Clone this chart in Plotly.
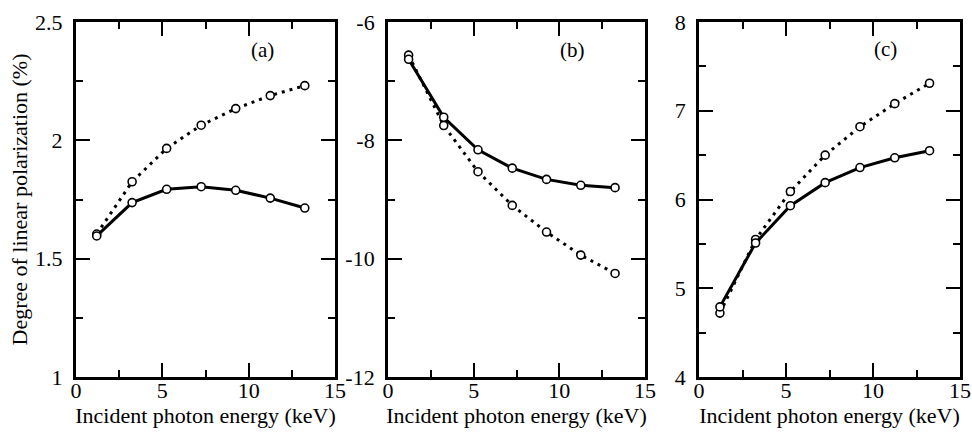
import plotly.graph_objects as go

energy = [1.2, 3.25, 5.25, 7.25, 9.25, 11.25, 13.25]

# panel (a)
a_solid = [1.596, 1.737, 1.793, 1.804, 1.789, 1.756, 1.714]
a_dotted = [1.604, 1.825, 1.966, 2.064, 2.134, 2.189, 2.231]
# panel (b)
b_solid = [-6.63, -7.61, -8.16, -8.47, -8.66, -8.76, -8.80]
b_dotted = [-6.56, -7.75, -8.53, -9.10, -9.55, -9.94, -10.25]
# panel (c)
c_solid = [4.79, 5.51, 5.93, 6.19, 6.36, 6.47, 6.55]
c_dotted = [4.72, 5.55, 6.09, 6.50, 6.82, 7.08, 7.31]

panel_labels = ["(a)", "(b)", "(c)"]
b_tickvals = [-12, -10, -8, -6]
b_ticktext = ["-12", "-10", "-8", "-6"]

FONT = "Liberation Serif"

fig = go.Figure()

panels = [
    (a_solid, a_dotted, "", [1, 2.5], 0.5, 0.25, (10.8, 2.38)),
    (b_solid, b_dotted, "2", [-12, -6], 2, 1, (10.75, -6.48)),
    (c_solid, c_dotted, "3", [4, 8], 1, 0.5, (10.7, 7.7)),
]
domains = [[0, 0.293], [0.353, 0.6437], [0.7048, 1.0]]

for i, (solid, dotted, ax, yr, dt, mdt, lab) in enumerate(panels):
    xa = "x" + ax
    ya = "y" + ax
    fig.add_trace(go.Scatter(
        x=energy, y=dotted, mode="lines+markers", xaxis=xa, yaxis=ya,
        line=dict(color="black", width=3, dash="3px,5px"),
        marker=dict(symbol="circle", size=8, color="white",
                    line=dict(color="black", width=1.6)),
    ))
    fig.add_trace(go.Scatter(
        x=energy, y=solid, mode="lines+markers", xaxis=xa, yaxis=ya,
        line=dict(color="black", width=3),
        marker=dict(symbol="circle", size=8, color="white",
                    line=dict(color="black", width=1.6)),
    ))

    xkey = "xaxis" + ax
    ykey = "yaxis" + ax
    fig.layout[xkey] = dict(
        domain=domains[i], range=[0, 15], dtick=5, tick0=0, anchor=ya,
        automargin=False,
        showline=True, linewidth=3, linecolor="black", mirror="ticks",
        ticks="inside", ticklen=14, tickwidth=1.5, tickcolor="black",
        ticklabelstandoff=-8,
        showgrid=False, zeroline=False,
        tickfont=dict(family=FONT, size=22, color="black"),
        minor=dict(ticks="inside", ticklen=7, dtick=2.5, tick0=0,
                   tickwidth=1.5, tickcolor="black"),
        title=dict(text="Incident photon energy (keV)", standoff=0,
                   font=dict(family=FONT, size=22, color="black")),
    )
    fig.layout[ykey] = dict(
        domain=[0, 1], range=yr, dtick=dt, anchor=xa,
        automargin=False,
        showline=True, linewidth=3, linecolor="black", mirror="ticks",
        ticks="inside", ticklen=14, tickwidth=1.5, tickcolor="black",
        ticklabelstandoff=6,
        showgrid=False, zeroline=False,
        tickfont=dict(family=FONT, size=22, color="black"),
        minor=dict(ticks="inside", ticklen=7, dtick=mdt,
                   tickwidth=1.5, tickcolor="black"),
    )
    fig.add_annotation(x=lab[0], y=lab[1], xref=xa, yref=ya, text=panel_labels[i],
                       showarrow=False,
                       font=dict(family=FONT, size=21, color="black"))

fig.update_layout(
    yaxis=dict(title=dict(text="Degree of linear polarization (%)", standoff=2,
                          font=dict(family=FONT, size=22, color="black"))),
    yaxis2=dict(tickvals=b_tickvals, ticktext=b_ticktext),
)

fig.update_layout(
    width=972, height=433,
    font=dict(family=FONT, size=20, color="black"),
    showlegend=False,
    margin=dict(l=76, r=12, t=22, b=56),
    paper_bgcolor="white",
    plot_bgcolor="white",
)

# drop the browser's default 8px body margin so the figure sits at the page corner
fig.write_html("out.html", config={"displayModeBar": False},
               post_script="document.body.style.margin='0';document.body.style.overflow='hidden';")
